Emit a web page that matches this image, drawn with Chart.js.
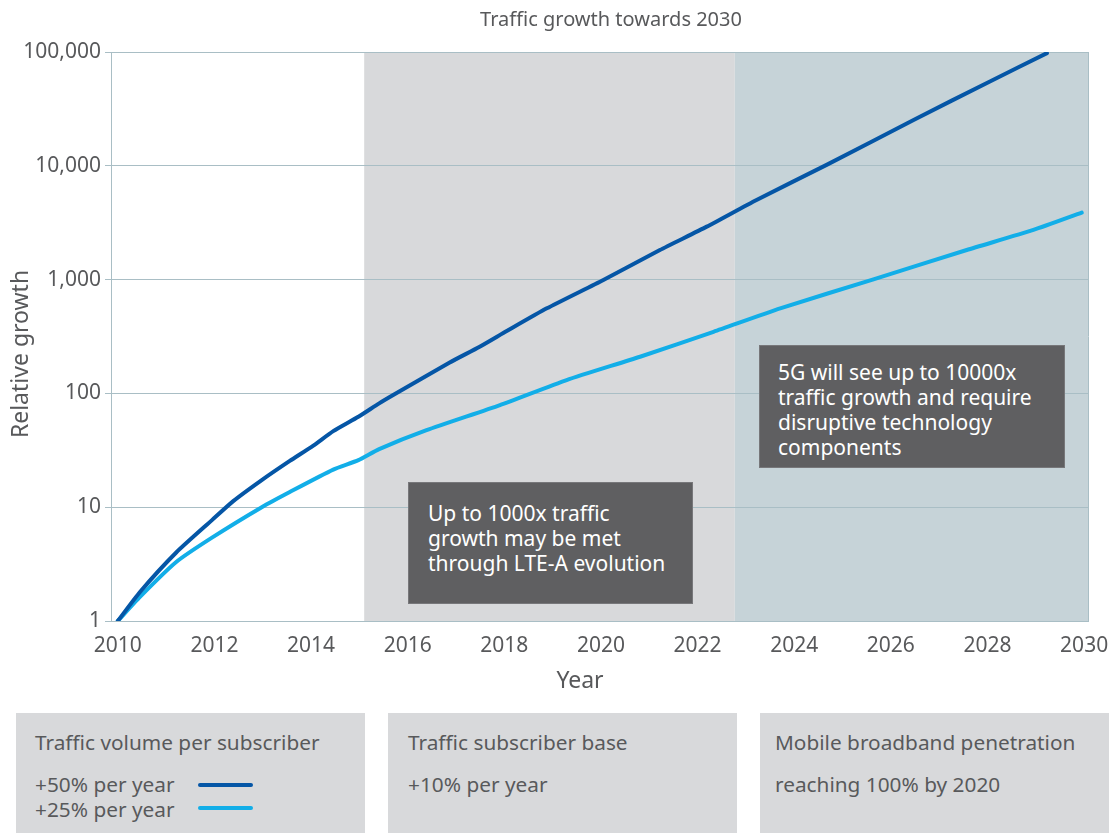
<!DOCTYPE html>
<html>
<head>
<meta charset="utf-8">
<title>Traffic growth towards 2030</title>
<script src="https://cdn.jsdelivr.net/npm/chart.js@4.4.1/dist/chart.umd.min.js"></script>
<style>
  body { margin: 0; background: #fff; font-family: "Noto Sans", "Open Sans", sans-serif; color: #58595b; }
  #wrap { position: relative; width: 1111px; height: 833px; overflow: hidden; }
  #growthChart { position: absolute; left: 0; top: 0; }
  .note {
    position: absolute; background: #5f5f61; border: 1px solid #77777a;
    color: #fff; font-size: 21px; line-height: 25px; box-sizing: border-box;
  }
  .info {
    position: absolute; top: 713px; width: 349px; height: 130px;
    background: #d8d9db; font-size: 20.8px; line-height: 25px; box-sizing: border-box;
    padding-top: 17px;
  }
  .info .head { line-height: 24px; margin-bottom: 18px; }
  .info .mark { position: absolute; left: 182px; width: 55px; height: 4px; border-radius: 2px; }
</style>
</head>
<body>
<div id="wrap">
  <canvas id="growthChart" width="1111" height="700"></canvas>

  <div class="note" style="left:408px; top:482px; width:285px; height:122px; padding:18px 0 0 19px;">
    Up to 1000x traffic<br>growth may be met<br>through LTE-A evolution
  </div>
  <div class="note" style="left:759px; top:345px; width:306px; height:123px; padding:14px 0 0 18px;">
    5G will see up to 10000x<br>traffic growth and require<br>disruptive technology<br>components
  </div>

  <div class="info" style="left:16px; padding-left:19px;">
    <div class="head">Traffic volume per subscriber</div>
    <div>+50% per year</div>
    <div>+25% per year</div>
    <span class="mark" style="top:70px; background:#0556a6;"></span>
    <span class="mark" style="top:93px; background:#12aee8;"></span>
  </div>
  <div class="info" style="left:388px; padding-left:20px;">
    <div class="head">Traffic subscriber base</div>
    <div>+10% per year</div>
  </div>
  <div class="info" style="left:760px; padding-left:15px;">
    <div class="head">Mobile broadband penetration</div>
    <div>reaching 100% by 2020</div>
  </div>
</div>

<script>
// values (year, relative growth)
const fastYears = [2010, 2010.46, 2011.21, 2011.95, 2012.39, 2012.98, 2013.56, 2014.04, 2014.46, 2014.98,
  2015.41, 2015.70, 2016.87, 2017.49, 2018.05, 2018.88, 2020.05, 2021.22, 2022.19, 2023.22,
  2024.67, 2026.47, 2028.05, 2029.23];
const fastValues = [1, 1.8, 4.0, 7.7, 11.3, 17.3, 25.5, 34.6, 46.6, 62.3,
  81.7, 96.7, 187, 257, 353, 559, 993, 1820, 2920, 5010,
  10190, 25300, 55100, 97800];

const slowYears = [2010, 2010.46, 2011.21, 2011.95, 2012.98, 2013.56, 2014.46, 2014.98, 2015.41, 2016.39,
  2017.91, 2019.29, 2020.81, 2022.33, 2023.71, 2025.64, 2027.57, 2028.95, 2029.95];
const slowValues = [1, 1.63, 3.3, 5.4, 10, 13.6, 21.4, 25.9, 32.4, 47.5,
  78.9, 131, 210, 348, 559, 1006, 1820, 2730, 3875];

const xTicks = [2010, 2012, 2014, 2016, 2018, 2020, 2022, 2024, 2026, 2028, 2030];
const yTicks = [1, 10, 100, 1000, 10000, 100000];
const yTickLabels = ['1', '10', '100', '1,000', '10,000', '100,000'];

// shaded periods: LTE-A era, 5G era
const bandStarts = [2015.1, 2022.77];
const bandEnds = [2022.77, 2030.08];

const gridColor = '#a9bec5';
const textColor = '#58595b';
const bandColors = ['#d8d9db', '#c6d3d8'];

function toPoints(xs, ys) {
  return xs.map((x, i) => ({ x: x, y: ys[i] }));
}

const decorPlugin = {
  id: 'decor',
  beforeDraw(chart) {
    const { ctx, chartArea, scales } = chart;
    ctx.save();
    bandStarts.forEach((start, i) => {
      const x0 = scales.x.getPixelForValue(start);
      const x1 = Math.min(scales.x.getPixelForValue(bandEnds[i]), chartArea.right);
      ctx.fillStyle = bandColors[i];
      ctx.fillRect(x0, chartArea.top, x1 - x0, chartArea.bottom - chartArea.top);
    });
    ctx.restore();
  },
  beforeDatasetsDraw(chart) {
    const { ctx, chartArea } = chart;
    ctx.save();
    // right frame line
    ctx.strokeStyle = gridColor;
    ctx.lineWidth = 1;
    ctx.beginPath();
    ctx.moveTo(chartArea.right + 0.5, chartArea.top);
    ctx.lineTo(chartArea.right + 0.5, chartArea.bottom);
    ctx.stroke();
    ctx.restore();
  },
  afterDraw(chart) {
    const { ctx } = chart;
    ctx.save();
    ctx.fillStyle = textColor;
    ctx.textAlign = 'center';
    ctx.textBaseline = 'middle';
    ctx.font = '20px "Noto Sans", sans-serif';
    ctx.fillText('Traffic growth towards 2030', 611, 20);
    ctx.font = '23px "Noto Sans", sans-serif';
    ctx.fillText('Year', 580, 681);
    ctx.translate(21, 354);
    ctx.rotate(-Math.PI / 2);
    ctx.fillText('Relative growth', 0, 0);
    ctx.restore();
  }
};

const chart = new Chart(document.getElementById('growthChart'), {
  type: 'line',
  data: {
    datasets: [
      {
        label: '+50% per year',
        data: toPoints(fastYears, fastValues),
        borderColor: '#0556a6',
        borderWidth: 4,
        borderCapStyle: 'round',
        pointRadius: 0,
        tension: 0.2
      },
      {
        label: '+25% per year',
        data: toPoints(slowYears, slowValues),
        borderColor: '#12aee8',
        borderWidth: 4,
        borderCapStyle: 'round',
        pointRadius: 0,
        tension: 0.2
      }
    ]
  },
  options: {
    responsive: false,
    animation: false,
    layout: { padding: { left: 0, right: 23, top: 52, bottom: 0 } },
    plugins: {
      legend: { display: false },
      tooltip: { enabled: false }
    },
    scales: {
      x: {
        type: 'linear',
        min: 2009.86,
        max: 2030.08,
        afterBuildTicks: axis => { axis.ticks = xTicks.map(v => ({ value: v })); },
        afterFit: axis => { axis.height = 79; axis.paddingRight = 0; axis.paddingLeft = 0; },
        grid: { display: false, drawTicks: false },
        border: { display: true, color: gridColor, width: 1 },
        ticks: {
          padding: 12,
          color: textColor,
          font: { family: 'Noto Sans', size: 21 },
          maxRotation: 0,
          callback: v => String(v)
        }
      },
      y: {
        type: 'logarithmic',
        min: 1,
        max: 100000,
        afterBuildTicks: axis => { axis.ticks = yTicks.map(v => ({ value: v })); },
        afterFit: axis => { axis.width = 111; },
        grid: { color: gridColor, lineWidth: 1, tickLength: 6 },
        border: { color: gridColor, width: 1 },
        ticks: {
          padding: 4,
          color: textColor,
          font: { family: 'Noto Sans', size: 21 },
          callback: (v, i) => yTickLabels[i]
        }
      }
    }
  },
  plugins: [decorPlugin]
});
</script>
</body>
</html>
